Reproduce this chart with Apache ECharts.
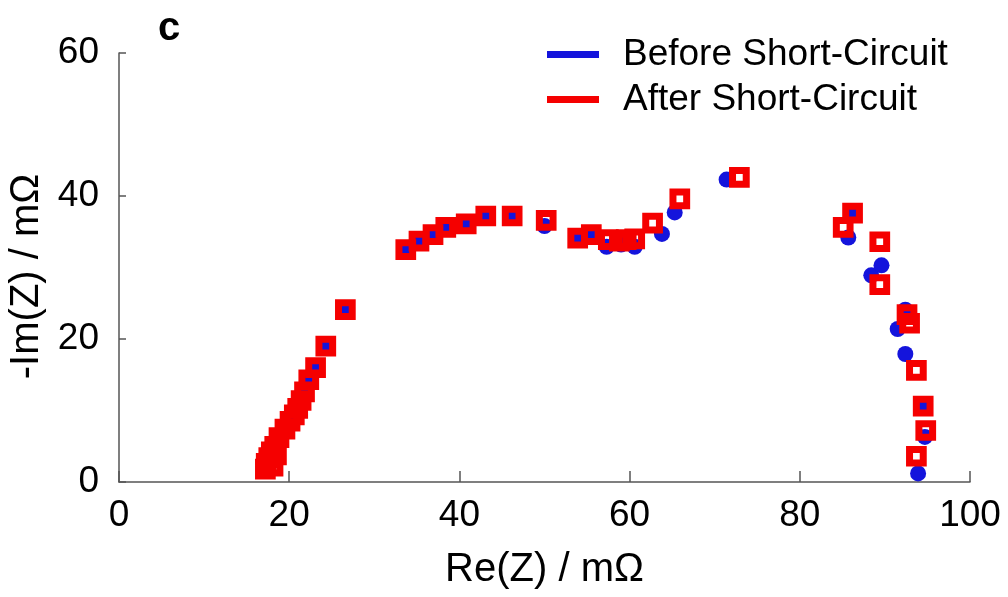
<!DOCTYPE html>
<html>
<head>
<meta charset="utf-8">
<script src="https://cdn.jsdelivr.net/npm/echarts@6/dist/echarts.min.js"></script>
<style>
html, body { margin: 0; padding: 0; background: #fff; }
#main { width: 1008px; height: 597px; }
</style>
</head>
<body>
<div id="main"></div>
<script>
// 短路前 (blue circles)
var beforeRe = [17.2, 17.4, 17.7, 18.0, 18.4, 18.9, 19.5, 20.1, 20.6, 21.0, 21.4, 21.8, 22.3, 23.1, 24.3, 26.6,
    33.7, 35.25, 36.9, 38.4, 40.8, 43.1, 46.2, 50.0, 53.9, 55.5, 57.3, 59.0, 60.6, 63.8, 65.3, 71.4,
    85.7, 86.2, 88.4, 89.6, 91.5, 92.4, 92.4, 94.5, 94.7, 93.9];
var beforeIm = [1.8, 2.6, 3.4, 4.2, 5.0, 6.2, 7.4, 8.5, 9.4, 10.3, 11.4, 12.6, 14.3, 16.0, 19.0, 24.1,
    32.5, 33.7, 34.6, 35.6, 36.1, 37.2, 37.2, 35.8, 34.1, 34.4, 32.9, 33.2, 32.9, 34.7, 37.7, 42.3,
    34.2, 37.6, 28.9, 30.3, 21.4, 24.1, 17.9, 10.6, 6.3, 1.2];
// 短路后 (red hollow squares)
var afterRe = [17.2, 17.3, 17.6, 17.9, 18.3, 18.8, 18.1, 18.5, 19.5, 20.1, 20.6, 21.0, 21.4, 21.8, 22.3, 23.1, 24.3, 26.6,
    33.7, 35.25, 36.9, 38.4, 40.8, 43.1, 46.2, 50.2, 53.9, 55.5, 57.5, 58.8, 59.6, 60.6, 62.7, 65.9, 72.9,
    85.1, 86.2, 89.4, 89.4, 92.6, 92.9, 93.7, 94.5, 94.8, 93.7];
var afterIm = [1.8, 2.6, 3.4, 4.2, 5.0, 6.2, 2.2, 3.8, 7.4, 8.5, 9.4, 10.3, 11.4, 12.6, 14.3, 16.0, 19.0, 24.1,
    32.5, 33.7, 34.6, 35.6, 36.1, 37.2, 37.2, 36.6, 34.1, 34.6, 33.9, 33.7, 33.9, 34.0, 36.2, 39.6, 42.6,
    35.6, 37.6, 33.6, 27.6, 23.4, 22.2, 15.6, 10.6, 7.2, 3.6];
var xTicks = [0, 20, 40, 60, 80, 100];
var yTicks = [0, 20, 40, 60];
var seriesNames = ['Before Short-Circuit', 'After Short-Circuit'];

var blue = '#1414dc';
var red = '#f50000';
var font = 'Liberation Sans, Arial, sans-serif';

function pairs(xs, ys) {
    var out = [];
    for (var i = 0; i < xs.length; i++) {
        out.push([xs[i], ys[i]]);
    }
    return out;
}

var myChart = echarts.init(document.getElementById('main'));
var option = {
    animation: false,
    title: {
        text: 'c',
        left: 158,
        top: 9,
        padding: 0,
        textStyle: { fontFamily: font, fontSize: 40, fontWeight: 'bold', color: '#000' }
    },
    legend: {
        orient: 'vertical',
        left: 547,
        top: 36,
        padding: 0,
        itemGap: 8,
        itemWidth: 52,
        itemHeight: 7,
        icon: 'rect',
        textStyle: { fontFamily: font, fontSize: 37, color: '#000', padding: [0, 0, 0, 19] },
        data: [
            { name: seriesNames[0], itemStyle: { color: blue, borderWidth: 0 } },
            { name: seriesNames[1], itemStyle: { color: red, borderWidth: 0 } }
        ]
    },
    grid: { left: 119, right: 38, top: 53, bottom: 115, containLabel: false, outerBoundsMode: 'none' },
    xAxis: {
        type: 'value',
        min: xTicks[0],
        max: xTicks[xTicks.length - 1],
        interval: 20,
        name: 'Re(Z) / mΩ',
        nameLocation: 'middle',
        nameGap: 68,
        nameTextStyle: { fontFamily: font, fontSize: 40, color: '#000' },
        axisLine: { lineStyle: { color: '#555', width: 1.5 } },
        axisTick: { inside: true, length: 11, lineStyle: { color: '#555', width: 1.5 } },
        axisLabel: { fontFamily: font, fontSize: 37, color: '#000', margin: 15 },
        splitLine: { show: false }
    },
    yAxis: {
        type: 'value',
        min: yTicks[0],
        max: yTicks[yTicks.length - 1],
        interval: 20,
        name: '-Im(Z) / mΩ',
        nameLocation: 'middle',
        nameGap: 56,
        nameTextStyle: { fontFamily: font, fontSize: 40, color: '#000', padding: [0, 18, 0, 0] },
        axisLine: { show: true, lineStyle: { color: '#555', width: 1.5 } },
        axisTick: { show: true, inside: true, length: 7, lineStyle: { color: '#555', width: 1.5 } },
        axisLabel: { fontFamily: font, fontSize: 37, color: '#000', margin: 20 },
        splitLine: { show: false }
    },
    series: [
        {
            name: seriesNames[0],
            type: 'scatter',
            symbol: 'circle',
            symbolSize: 16,
            itemStyle: { color: blue, opacity: 1 },
            data: pairs(beforeRe, beforeIm),
            z: 2
        },
        {
            name: seriesNames[1],
            type: 'scatter',
            symbol: 'rect',
            symbolSize: 13.7,
            itemStyle: { color: 'rgba(0,0,0,0)', borderColor: red, borderWidth: 7, opacity: 1 },
            data: pairs(afterRe, afterIm),
            z: 3
        }
    ]
};
option && myChart.setOption(option);
</script>
</body>
</html>
